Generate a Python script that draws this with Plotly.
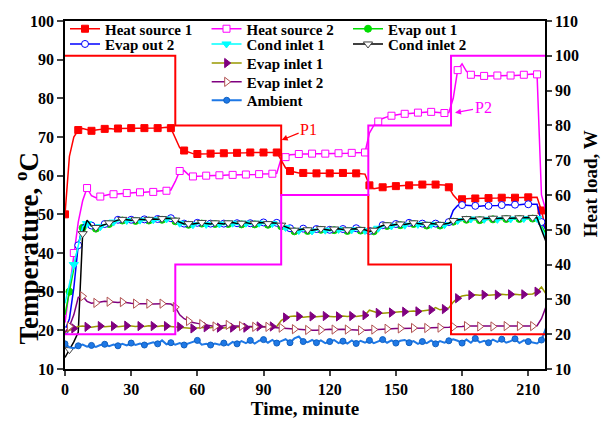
import plotly.graph_objects as go

# ---------------- data ----------------
time_min = list(range(0, 219, 2))  # minutes

heat_source_1 = [
    50, 65, 70, 71.8, 72.2, 72, 71.6, 71.8, 72, 72.1,
    72.2, 72.1, 72.2, 72.2, 72.2, 72.3, 72.2, 72.2, 72.3, 72.2,
    72.3, 72.3, 72.4, 72.5, 72.3, 69.5, 67.2, 66.5, 66, 65.7,
    65.6, 65.6, 65.7, 65.7, 65.8, 65.8, 65.8, 65.8, 65.9, 65.9,
    65.9, 65.9, 66, 66, 66, 66, 66, 66, 66, 64,
    62, 61.2, 60.9, 60.7, 60.7, 60.6, 60.6, 60.6, 60.6, 60.6,
    60.6, 60.6, 60.6, 60.7, 60.6, 60.7, 60.6, 60.5, 60.4, 57.5,
    56.6, 56.8, 57, 57.1, 57.2, 57.3, 57.4, 57.5, 57.5, 57.6,
    57.6, 57.7, 57.7, 57.7, 57.7, 57.7, 57.6, 57, 55, 53.7,
    53.9, 54, 54.1, 54.1, 54.1, 54.2, 54.2, 54.2, 54.2, 54.3,
    54.3, 54.3, 54.3, 54.4, 54.4, 54.4, 54.4, 54.4, 51, 46]

heat_source_2 = [
    22, 31, 40, 48, 53.5, 56.8, 54.8, 54.3, 54.6, 54.9,
    55.1, 55.2, 55.3, 55.4, 55.5, 55.6, 55.6, 55.7, 55.7, 55.8,
    55.8, 55.9, 56, 56.1, 56.3, 58.5, 61.2, 61.3, 60.2, 59.8,
    59.8, 59.9, 60, 60, 60.1, 60.1, 60.1, 60.2, 60.2, 60.2,
    60.2, 60.3, 60.3, 60.3, 60.4, 60.4, 60.4, 60.5, 60.6, 64.5,
    64.8, 65.4, 65.5, 65.6, 65.6, 65.6, 65.7, 65.7, 65.7, 65.7,
    65.8, 65.8, 65.8, 65.8, 65.8, 65.9, 65.9, 65.9, 66, 71,
    73, 74, 74.8, 75.2, 75.5, 75.7, 75.9, 76, 76.1, 76.2,
    76.3, 76.4, 76.5, 76.5, 76.4, 76.3, 76.2, 76.3, 80, 87.3,
    88.9, 87, 86.1, 85.9, 85.8, 85.8, 85.8, 85.8, 85.9, 85.9,
    85.9, 85.9, 85.9, 86, 86.1, 86.2, 86.3, 86.2, 55, 51]

evap_out_1 = [
    24, 30, 36, 42, 46.5, 47.8, 46.8, 46.3, 46.7, 47.1,
    47.5, 47.9, 48.2, 48.4, 48.3, 48.2, 48.3, 48.4, 48.3, 48.4,
    48.5, 48.4, 48.6, 48.7, 48.6, 48.2, 47.6, 47.2, 47.3, 47.2,
    47.4, 47.6, 47.3, 47.2, 47.5, 47.4, 47.2, 47.5, 47.6, 47.3,
    47.4, 47.6, 47.3, 47.4, 47.6, 47.5, 47.3, 47.5, 47.4, 46.9,
    46.5, 46, 45.6, 45.7, 45.9, 45.7, 45.6, 45.8, 46, 45.8,
    45.6, 45.9, 46, 45.8, 45.7, 45.9, 46, 45.8, 45.7, 45.3,
    45.6, 46.3, 46.8, 47, 46.9, 47.1, 47.2, 47.1, 47.4, 47.5,
    47.3, 47.2, 47.1, 47.3, 47.2, 47.1, 47.2, 47.4, 48.1, 48.3,
    48.4, 48.6, 48.7, 48.6, 48.5, 48.6, 48.7, 48.7, 48.6, 48.7,
    48.8, 48.7, 48.7, 48.8, 48.8, 48.9, 48.9, 48.8, 47, 45]

evap_out_2 = [
    20, 23, 31, 42, 47, 48.2, 47.1, 46.7, 47.1, 47.5,
    47.9, 48.3, 48.6, 48.8, 48.7, 48.6, 48.7, 48.8, 48.7, 48.8,
    48.9, 48.8, 49, 49.1, 49, 48.6, 48, 47.6, 47.7, 47.6,
    47.8, 48, 47.7, 47.6, 47.9, 47.8, 47.6, 47.9, 48, 47.7,
    47.8, 48, 47.7, 47.8, 48, 47.9, 47.7, 47.9, 47.8, 47.3,
    46.9, 46.4, 46, 46.1, 46.3, 46.1, 46, 46.2, 46.4, 46.2,
    46, 46.3, 46.4, 46.2, 46.1, 46.3, 46.4, 46.2, 46.1, 45.7,
    46, 46.7, 47.2, 47.4, 47.3, 47.5, 47.6, 47.5, 47.8, 47.9,
    47.7, 47.6, 47.5, 47.7, 47.6, 47.5, 47.6, 48, 51, 52.3,
    52.4, 52.3, 52.2, 52.2, 52.1, 52.2, 52.2, 52.3, 52.3, 52.4,
    52.4, 52.5, 52.5, 52.5, 52.6, 52.6, 52.7, 52.6, 48, 46]

cond_inlet_1 = [
    27, 32, 37, 42, 46.8, 47.6, 46.9, 46.5, 46.8, 47.2,
    47.6, 48, 48.3, 48.5, 48.4, 48.3, 48.4, 48.5, 48.4, 48.5,
    48.6, 48.5, 48.7, 48.8, 48.7, 48.3, 47.7, 47.3, 47.4, 47.3,
    47.5, 47.7, 47.4, 47.3, 47.6, 47.5, 47.3, 47.6, 47.7, 47.4,
    47.5, 47.7, 47.4, 47.5, 47.7, 47.6, 47.4, 47.6, 47.5, 47,
    46.6, 46.1, 45.7, 45.8, 46, 45.8, 45.7, 45.9, 46.1, 45.9,
    45.7, 46, 46.1, 45.9, 45.8, 46, 46.1, 45.9, 45.8, 45.4,
    45.7, 46.4, 46.9, 47.1, 47, 47.2, 47.3, 47.2, 47.5, 47.6,
    47.4, 47.3, 47.2, 47.4, 47.3, 47.2, 47.3, 47.5, 48.2, 48.4,
    48.5, 48.7, 48.8, 48.7, 48.6, 48.7, 48.8, 48.8, 48.7, 48.8,
    48.9, 48.8, 48.8, 48.9, 48.9, 49, 49, 48.9, 46.5, 44]

cond_inlet_2 = [
    13, 15, 17, 19.5, 45, 48.5, 47, 46.6, 47, 47.4,
    47.8, 48.2, 48.5, 48.7, 48.6, 48.5, 48.6, 48.7, 48.6, 48.7,
    48.8, 48.7, 48.9, 49, 48.9, 48.5, 47.9, 47.5, 47.6, 47.5,
    47.7, 47.9, 47.6, 47.5, 47.8, 47.7, 47.5, 47.8, 47.9, 47.6,
    47.7, 47.9, 47.6, 47.7, 47.9, 47.8, 47.6, 47.8, 47.7, 47.2,
    46.8, 46.3, 45.9, 46, 46.2, 46, 45.9, 46.1, 46.3, 46.1,
    45.9, 46.2, 46.3, 46.1, 46, 46.2, 46.3, 46.1, 46, 45.6,
    45.9, 46.6, 47.1, 47.3, 47.2, 47.4, 47.5, 47.4, 47.7, 47.8,
    47.6, 47.5, 47.4, 47.6, 47.5, 47.4, 47.5, 47.7, 48.4, 48.6,
    48.7, 48.9, 49, 48.9, 48.8, 48.9, 49, 49, 48.9, 49,
    49.1, 49, 49, 49.1, 49.1, 49.2, 49.2, 49.1, 46, 43]

evap_inlet_1 = [
    19.5, 20, 20.5, 21, 21.1, 20.9, 20.8, 21, 21.1, 20.9,
    21, 21.1, 20.9, 21, 21.2, 21.1, 21, 21.1, 21, 21.2,
    21.1, 21, 21.2, 21.1, 21, 21, 20.9, 20.8, 20.6, 20.5,
    20.6, 20.7, 20.8, 20.7, 20.9, 20.7, 20.6, 20.8, 20.7, 20.9,
    20.8, 20.7, 20.9, 20.8, 21, 20.9, 20.9, 21, 21, 22.5,
    23.3, 23.6, 23.7, 23.6, 23.4, 23.5, 23.6, 23.5, 23.6, 23.7,
    23.6, 23.5, 23.6, 23.7, 23.6, 23.7, 23.6, 23.8, 23.9, 25.2,
    24.8, 24.5, 24.4, 24.5, 24.6, 24.8, 24.8, 24.8, 24.9, 25,
    24.9, 25, 25.1, 25.3, 25.9, 25.3, 25.5, 25.8, 27.3, 28.3,
    28.9, 29.1, 29.1, 29.2, 29.1, 29.2, 29.1, 29.2, 29.2, 29.3,
    29.2, 29.3, 29.3, 29.2, 29.3, 29.3, 29.4, 30, 31.2, 29.5]

evap_inlet_2 = [
    19.5, 21, 24, 28.5, 28.8, 27.5, 27, 27.1, 27.3, 27.5,
    27.4, 27.3, 27.2, 27.3, 27.1, 27, 26.9, 26.9, 27, 26.9,
    26.8, 26.9, 26.9, 26.9, 26.8, 26, 24, 23, 22.4, 22,
    21.8, 21.6, 21.3, 21.1, 21, 21, 21.2, 21.4, 21.2, 21.1,
    21.1, 21, 21, 20.9, 21, 20.9, 20.9, 20.8, 20.8, 20.7,
    20.6, 20.5, 20.3, 20.3, 20.2, 20.1, 20, 20, 20.1, 20.2,
    20.3, 20.2, 20.3, 20.3, 20.2, 20.1, 20, 20, 20, 20.1,
    20.2, 20.3, 20.3, 20.4, 20.5, 20.5, 20.5, 20.5, 20.6, 20.6,
    20.5, 20.6, 20.6, 20.7, 20.7, 20.7, 20.8, 20.8, 20.9, 20.9,
    21, 21.1, 21.1, 21.1, 21, 21.1, 21.1, 21, 21.1, 21.1,
    21.1, 21, 21.1, 21.1, 21.1, 21.1, 21.1, 21.2, 23, 26]

ambient = [
    16.5, 15.6, 15.4, 16, 16.3, 15.8, 16.1, 15.7, 16.2, 16.4,
    15.9, 16.3, 16, 16.5, 16.1, 16.7, 16.2, 16.6, 16.2, 16.5,
    16.9, 16.5, 17.4, 16.4, 16.8, 16.3, 16.7, 16.2, 16.6, 16.9,
    17.4, 16.3, 16.5, 16.2, 16.6, 16.3, 16.7, 16.2, 17, 16.5,
    17.2, 16.7, 17.4, 16.6, 17.3, 17.6, 16.8, 17.5, 16.7, 17.2,
    17.7, 16.8, 17.9, 18.4, 17.1, 16.9, 17.5, 16.8, 17.4, 16.7,
    17.1, 17.5, 16.7, 17.2, 16.6, 17.4, 16.6, 17.3, 16.8, 17.4,
    16.7, 17.2, 17.6, 16.8, 17.4, 16.7, 17.3, 17.5, 16.8, 17.2,
    16.5, 17.1, 16.7, 17.4, 16.5, 17.2, 16.8, 17.3, 17.7, 17.3,
    16.7, 17.6, 16.8, 17.9, 16.9, 17.3, 16.8, 17.6, 17, 17.7,
    16.8, 17.2, 17.8, 16.7, 17.4, 17.1, 16.8, 16.6, 17.5, 20.5]

# heat load steps (W), right axis
load_times = [0, 50, 98, 137.5, 175, 218]
heat_load_1 = [100, 80, 60, 40, 20, 20]
heat_load_2 = [20, 40, 60, 80, 100, 100]

x_ticks = [0, 30, 60, 90, 120, 150, 180, 210]
temp_ticks = [10, 20, 30, 40, 50, 60, 70, 80, 90, 100]
load_ticks = [10, 20, 30, 40, 50, 60, 70, 80, 90, 100, 110]

# annotation points (time, temperature)
p1_point = (98.2, 69.2)
p2_point = (176.8, 76.3)

FONT = "Liberation Serif"

fig = go.Figure()


def add_series(name, y, line_color, symbol, fill, edge, legend, size=7, lw=1.5):
    fig.add_trace(go.Scatter(
        x=time_min, y=y, name=name, mode="lines+markers",
        line=dict(color=line_color, width=lw),
        marker=dict(symbol=symbol, size=size, color=fill,
                    line=dict(color=edge, width=1), maxdisplayed=37),
        legend=legend))


add_series("Heat source 1", heat_source_1, "#FF0000", "square", "#FF0000", "#FF0000", "legend", 7)
add_series("Heat source 2", heat_source_2, "#FF00FF", "square", "white", "#FF00FF", "legend", 7)
add_series("Evap out 1", evap_out_1, "#00DD00", "circle", "#00DD00", "#00DD00", "legend", 7)
add_series("Evap out 2", evap_out_2, "#0000FF", "circle", "white", "#0000FF", "legend2", 7)
add_series("Cond inlet 1", cond_inlet_1, "#00FFFF", "triangle-down", "#00FFFF", "#00FFFF", "legend2", 8)
add_series("Cond inlet 2", cond_inlet_2, "#000000", "triangle-down", "white", "#404040", "legend2", 8)
add_series("Evap inlet 1", evap_inlet_1, "#999900", "triangle-right", "#800080", "#800080", "legend3", 8)
add_series("Evap inlet 2", evap_inlet_2, "#800080", "triangle-right", "white", "#B05050", "legend4", 8)
add_series("Ambient", ambient, "#1E78E6", "circle", "#1E78E6", "#1060C0", "legend5", 6, 2)

fig.add_trace(go.Scatter(x=load_times, y=heat_load_1, mode="lines", line_shape="hv",
                         line=dict(color="#FF0000", width=2), yaxis="y2", showlegend=False))
fig.add_trace(go.Scatter(x=load_times, y=heat_load_2, mode="lines", line_shape="hv",
                         line=dict(color="#FF00FF", width=2), yaxis="y2", showlegend=False))

leg_font = dict(family=FONT, size=15, color="black", weight="bold")


def leg(x, y):
    return dict(x=x, y=y, xanchor="left", yanchor="top", orientation="h",
                entrywidth=96.5, bgcolor="rgba(0,0,0,0)", borderwidth=0,
                font=leg_font, itemclick=False)


tick_font = dict(family=FONT, size=16, color="black", weight="bold")
title_font = dict(family=FONT, size=19, color="black", weight="bold")

fig.update_layout(
    width=603, height=427,
    font=dict(family=FONT, color="black"),
    margin=dict(l=65, r=58, t=15, b=47),
    paper_bgcolor="white", plot_bgcolor="white",
    legend=leg(0, 1.0245),
    legend2=leg(0, 0.9807),
    legend3=leg(0.2952, 0.9259),
    legend4=leg(0.2952, 0.8718),
    legend5=leg(0.2952, 0.8189),
    xaxis=dict(range=[0, 217.6], tickvals=x_ticks, ticks="outside", ticklen=5, tickwidth=1.5,
               showline=True, linewidth=1.5, linecolor="black", mirror=True,
               showgrid=False, zeroline=False, tickfont=tick_font,
               title=dict(text="Time, minute", font=title_font, standoff=4)),
    yaxis=dict(range=[10, 100], tickvals=temp_ticks, ticks="outside", ticklen=6, tickwidth=1.5,
               showline=True, linewidth=1.5, linecolor="black",
               showgrid=False, zeroline=False, tickfont=tick_font),
    yaxis2=dict(range=[10, 110], tickvals=load_ticks, ticks="outside", ticklen=5, tickwidth=1.5,
                overlaying="y", side="right",
                showline=True, linewidth=1.5, linecolor="black",
                showgrid=False, zeroline=False, tickfont=tick_font),
    annotations=[
        dict(x=-0.08, y=0.345, xref="paper", yref="paper", text="Temperature, <sup>o</sup>C",
             showarrow=False, textangle=-90, xanchor="center", yanchor="middle",
             font=dict(family=FONT, size=27, color="black", weight="bold")),
        dict(x=1.094, y=0.5315, xref="paper", yref="paper", text="Heat load, W",
             showarrow=False, textangle=-90, xanchor="center", yanchor="middle",
             font=title_font),
        dict(x=p1_point[0], y=p1_point[1], xref="x", yref="y", text="P1",
             showarrow=True, ax=27, ay=-11, arrowhead=2, arrowsize=1, arrowwidth=1.2,
             arrowcolor="#FF0000", font=dict(family=FONT, size=16, color="#FF0000")),
        dict(x=p2_point[0], y=p2_point[1], xref="x", yref="y", text="P2",
             showarrow=True, ax=28, ay=-5, arrowhead=2, arrowsize=1, arrowwidth=1.2,
             arrowcolor="#FF00FF", font=dict(family=FONT, size=16, color="#FF00FF")),
    ],
)

fig.write_html("out.html")
